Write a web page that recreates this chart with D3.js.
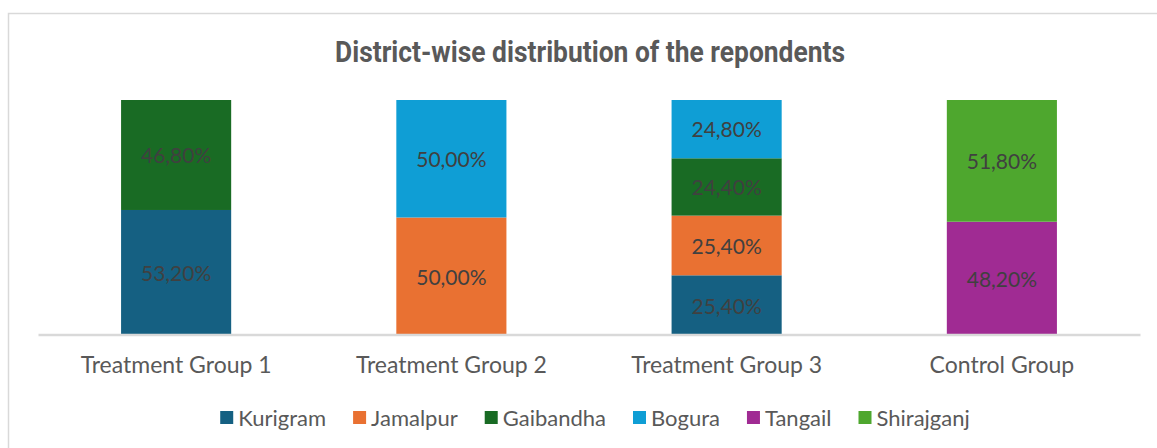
<!DOCTYPE html>
<html><head><meta charset="utf-8">
<script src="https://cdn.jsdelivr.net/npm/d3@7"></script>
<style>body{margin:0;background:#fff}svg{display:block}</style>
</head><body><svg id="c" width="1157" height="448"></svg>
<script>
const categories = ["Treatment Group 1","Treatment Group 2","Treatment Group 3","Control Group"];
const districts = ["Kurigram","Jamalpur","Gaibandha","Bogura","Tangail","Shirajganj"];
const colors = ["#156082","#E97132","#196B24","#0F9ED5","#A02B93","#4EA72E"];
const Kurigram   = [53.2, 0, 25.4, 0];
const Jamalpur   = [0, 50.0, 25.4, 0];
const Gaibandha  = [46.8, 0, 24.4, 0];
const Bogura     = [0, 50.0, 24.8, 0];
const Tangail    = [0, 0, 0, 48.2];
const Shirajganj = [0, 0, 0, 51.8];
const series = [Kurigram, Jamalpur, Gaibandha, Bogura, Tangail, Shirajganj];

const svg = d3.select("#c");
const font = "Lato, 'Open Sans', sans-serif";
svg.append("rect").attr("x",8.5).attr("y",13.5).attr("width",1170).attr("height",460)
  .attr("fill","#fff").attr("stroke","#d9d9d9").attr("stroke-width",1.5);

svg.append("text").attr("x",590).attr("y",62).attr("text-anchor","middle")
  .attr("font-family","Roboto, sans-serif").attr("font-weight","bold")
  .attr("font-size",29).attr("fill","#595959")
  .attr("textLength",510).attr("lengthAdjust","spacingAndGlyphs")
  .text("District-wise distribution of the repondents");

const x = d3.scaleBand().domain(categories).range([38.5,1139.5]).paddingInner(0.6).paddingOuter(0.3);
const y = d3.scaleLinear().domain([0,100]).range([335,100]);

const rows = categories.map((c,i)=>{const o={cat:c}; districts.forEach((d,j)=>o[d]=series[j][i]); return o;});
const stack = d3.stack().keys(districts)(rows);

stack.forEach((layer,j)=>{
  const g = svg.append("g");
  layer.forEach((d,i)=>{
    if (d[1]-d[0] <= 0) return;
    g.append("rect").attr("x",x(categories[i])).attr("width",x.bandwidth())
      .attr("y",y(d[1])).attr("height",y(d[0])-y(d[1])).attr("fill",colors[j]);
    g.append("text").attr("x",x(categories[i])+x.bandwidth()/2).attr("y",(y(d[0])+y(d[1]))/2+1)
      .attr("dy","0.35em").attr("text-anchor","middle").attr("font-family",font)
      .attr("font-size",21).attr("fill","#404040")
      .text(d3.format(".2f")(d[1]-d[0]).replace(".",",")+"%");
  });
});

const axis = svg.append("g").attr("transform","translate(0,335)")
  .call(d3.axisBottom(x).tickSize(0).tickPadding(22));
axis.select(".domain").attr("stroke","#d9d9d9").attr("stroke-width",2.5).attr("d","M38.5,0H1140.5");
axis.selectAll("text").attr("font-family",font).attr("font-size",23).attr("fill","#595959");

// legend
const leg = svg.append("g");
const items = [];
districts.forEach((d,j)=>{
  const it = leg.append("g");
  it.append("rect").attr("x",0).attr("y",-7).attr("width",13).attr("height",13).attr("fill",colors[j]);
  const t = it.append("text").attr("x",18).attr("dy","0.35em").attr("font-family",font)
    .attr("font-size",22).attr("fill","#595959").text(d);
  items.push({it, w:18+t.node().getComputedTextLength()});
});
const gap = 27;
const total = d3.sum(items,d=>d.w)+gap*(items.length-1);
let lx = 595 - total/2;
items.forEach(o=>{o.it.attr("transform",`translate(${lx},418)`); lx += o.w+gap;});
</script></body></html>
